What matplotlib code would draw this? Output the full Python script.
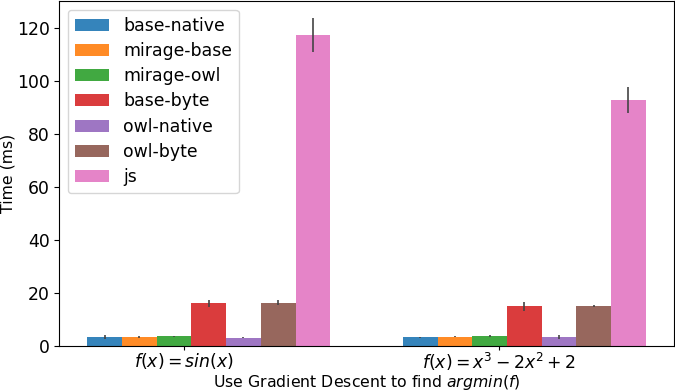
import numpy as np
import matplotlib
matplotlib.use("Agg")
import matplotlib.pyplot as plt

# benchmark times (ms) per function, per variant
functions = ["$f(x) = sin(x)$", "$f(x) = x^3 - 2x^2 + 2$"]
variants = ["base-native", "mirage-base", "mirage-owl", "base-byte",
            "owl-native", "owl-byte", "js"]
means = {
    "base-native": [3.5, 3.4],
    "mirage-base": [3.6, 3.6],
    "mirage-owl": [3.7, 3.9],
    "base-byte": [16.3, 15.1],
    "owl-native": [3.3, 3.5],
    "owl-byte": [16.5, 15.2],
    "js": [117.5, 92.9],
}
errors = {
    "base-native": [0.8, 0.2],
    "mirage-base": [0.3, 0.2],
    "mirage-owl": [0.3, 0.3],
    "base-byte": [1.3, 1.6],
    "owl-native": [0.2, 0.8],
    "owl-byte": [1.1, 0.2],
    "js": [6.5, 4.8],
}


def main():
    fig, ax = plt.subplots(figsize=(6.75, 3.92), dpi=100)
    fig.subplots_adjust(left=0.088, right=0.998, top=0.9967, bottom=0.1166)

    ind = np.arange(len(functions))
    width = 0.11
    for i, name in enumerate(variants):
        ax.bar(ind - 0.25 + i * width, means[name], width,
               yerr=errors[name], alpha=0.9, label=name,
               color="C%d" % i, ecolor="#444444",
               error_kw={"elinewidth": 1.2})

    ax.set_xticks(ind)
    ax.set_xticklabels(functions, fontsize=12.4)
    ax.tick_params(axis="x", length=3, pad=0.5)
    ax.tick_params(axis="y", labelsize=12.4)
    ax.set_ylabel("Time (ms)", fontsize=11.3, labelpad=1)
    ax.set_xlabel("Use Gradient Descent to find $argmin(f)$", fontsize=11.3,
                  labelpad=0)
    ax.legend(loc="upper left", fontsize=12.4, labelspacing=0.42)

    fig.savefig("out.png")
    plt.close(fig)


if __name__ == "__main__":
    main()
